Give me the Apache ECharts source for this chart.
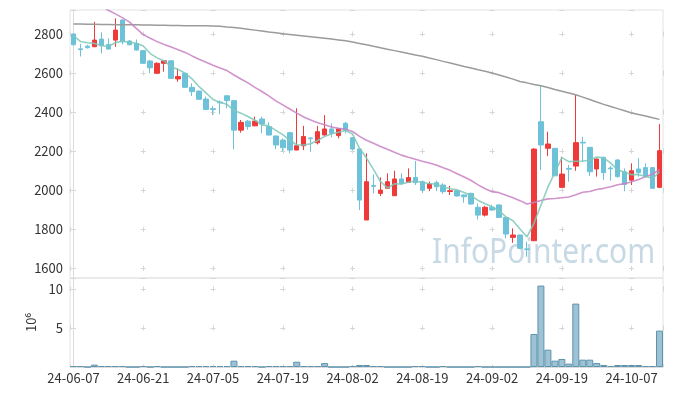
<!DOCTYPE html>
<html><head><meta charset="utf-8">
<script src="https://cdn.jsdelivr.net/npm/echarts@6/dist/echarts.min.js"></script>
<style>html,body{margin:0;padding:0;background:#fff}#c{width:673px;height:396px}</style>
</head><body><div id="c"></div>
<script>
const dates = ['24-06-07','24-06-10','24-06-11','24-06-12','24-06-13','24-06-14','24-06-17','24-06-18','24-06-19','24-06-20',
'24-06-21','24-06-24','24-06-25','24-06-26','24-06-27','24-06-28','24-07-01','24-07-02','24-07-03','24-07-04',
'24-07-05','24-07-08','24-07-09','24-07-10','24-07-11','24-07-12','24-07-15','24-07-16','24-07-17','24-07-18',
'24-07-19','24-07-22','24-07-23','24-07-24','24-07-25','24-07-26','24-07-29','24-07-30','24-07-31','24-08-01',
'24-08-02','24-08-05','24-08-06','24-08-07','24-08-08','24-08-09','24-08-12','24-08-13','24-08-14','24-08-16',
'24-08-19','24-08-20','24-08-21','24-08-22','24-08-23','24-08-26','24-08-27','24-08-28','24-08-29','24-08-30',
'24-09-02','24-09-03','24-09-04','24-09-05','24-09-06','24-09-09','24-09-10','24-09-11','24-09-12','24-09-13',
'24-09-19','24-09-20','24-09-23','24-09-24','24-09-25','24-09-26','24-09-27','24-09-30','24-10-02','24-10-04',
'24-10-07','24-10-08','24-10-10','24-10-11','24-10-14'];

const opens  = [2800,2724,2738,2735,2774,2747,2769,2872,2764,2752, 2715,2662,2599,2650,2663,2570,2599,2527,2508,2467,
                2418,2452,2484,2459,2308,2354,2330,2365,2326,2278, 2257,2295,2206,2228,2268,2243,2283,2314,2280,2343,
                2269,2211,1848,2024,1984,2010,1972,2058,2041,2066, 2044,2010,2039,2027,1994,1998,1976,1984,1913,1873,
                1913,1925,1861,1759,1771,1700,1742,2351,2215,2215, 2015,2112,2124,2246,2220,2109,2169,2114,2155,2095,
                2052,2109,2116,2116,2015];
const closes = [2745,2720,2730,2769,2740,2723,2820,2761,2745,2718, 2650,2627,2650,2663,2573,2582,2527,2505,2466,2414,
                2414,2448,2459,2308,2348,2326,2354,2339,2283,2232, 2218,2206,2228,2275,2264,2300,2314,2292,2314,2308,
                2211,1950,2044,2020,2001,2044,2058,2036,2065,2039, 2001,2032,2018,1993,1998,1971,1967,1930,1873,1913,
                1899,1861,1776,1771,1703,1697,2211,2232,2237,2074, 2083,2108,2244,2242,2095,2160,2090,2110,2070,2030,
                2100,2090,2070,2010,2203];
const lows   = [2742,2685,2726,2733,2701,2720,2735,2747,2743,2715, 2648,2600,2597,2607,2570,2556,2525,2483,2463,2412,
                2385,2390,2420,2210,2295,2310,2328,2292,2280,2210, 2198,2190,2205,2206,2197,2235,2280,2271,2266,2292,
                2205,1899,1848,1984,1971,2008,1972,2027,2040,2027, 1986,1996,1996,1982,1976,1968,1936,1925,1851,1866,
                1895,1858,1754,1731,1700,1660,1740,2104,2175,2072, 2015,2044,2100,2146,2074,2070,2052,2049,2064,1995,
                2027,2070,2064,2008,2013];
const highs  = [2802,2750,2745,2863,2809,2778,2880,2874,2770,2772, 2718,2667,2655,2665,2665,2624,2600,2548,2510,2480,
                2431,2460,2485,2460,2360,2360,2377,2377,2348,2280, 2266,2300,2420,2330,2270,2330,2385,2343,2318,2350,
                2272,2215,2189,2082,2066,2087,2100,2087,2112,2150, 2050,2044,2050,2036,2023,2000,1978,1988,1933,1920,
                1926,1928,1862,1805,1773,1737,2215,2539,2300,2217, 2172,2129,2488,2274,2222,2162,2171,2124,2160,2112,
                2138,2164,2138,2118,2339];

const ma5   = [2790,2762,2755,2752,2741,2736,2756,2763,2758,2753, 2739,2700,2678,2662,2633,2619,2599,2570,2531,2499,
               2465,2449,2440,2409,2395,2378,2359,2335,2330,2307, 2285,2256,2233,2232,2238,2255,2276,2289,2297,2306,
               2288,2215,2165,2107,2045,2012,2033,2032,2041,2048, 2040,2035,2031,2017,2008,2002,1989,1972,1948,1931,
               1916,1895,1864,1844,1802,1762,1831,1923,2016,2090, 2167,2147,2149,2150,2154,2170,2166,2139,2105,2092,
               2080,2080,2072,2060,2095];
const ma20  = [3022,3002,2982,2962,2942,2922,2903,2884,2862,2829, 2797,2778,2761,2747,2734,2720,2706,2688,2671,2656,
               2640,2626,2613,2590,2570,2550,2527,2506,2483,2458, 2437,2416,2395,2375,2360,2346,2335,2324,2317,2312,
               2301,2276,2256,2241,2224,2210,2195,2180,2169,2159, 2149,2140,2129,2115,2102,2085,2068,2050,2028,2008,
               1993,1988,1975,1962,1947,1930,1938,1948,1956,1958, 1962,1966,1977,1990,1994,2004,2010,2018,2028,2034,
               2044,2055,2070,2082,2107];
const ma120 = [2851,2851,2850,2850,2849,2849,2848,2848,2847,2847, 2846,2846,2845,2845,2844,2844,2843,2843,2842,2842,
               2841,2840,2836,2833,2829,2825,2820,2815,2810,2806, 2802,2798,2794,2790,2786,2782,2778,2774,2770,2765,
               2759,2752,2745,2737,2730,2722,2715,2708,2700,2693, 2686,2677,2669,2660,2652,2643,2634,2626,2617,2609,
               2600,2590,2580,2569,2557,2550,2542,2535,2526,2516, 2507,2498,2489,2477,2465,2452,2440,2429,2418,2407,
               2396,2388,2380,2371,2363];
const volume = [0.13,0.13,0,0.30,0.13,0.13,0.13,0.13,0,0, 0.13,0,0.13,0,0,0,0,0.13,0.13,0.13,
                0.13,0.13,0.13,0.81,0.13,0.13,0.13,0,0.13,0.13, 0.13,0.13,0.68,0.13,0.13,0.13,0.50,0,0,0,
                0.13,0.26,0.26,0.13,0.13,0,0,0,0,0.13, 0.13,0,0,0.13,0,0,0,0,0.13,0,
                0,0,0,0,0,0,4.23,10.43,2.22,0.81, 1.03,0.43,8.12,0.94,0.94,0.51,0.26,0.13,0.26,0.26,
                0.26,0.26,0.13,0.13,4.66];
const priceTicks = [1600,1800,2000,2200,2400,2600,2800];
const volumeTicks = [5,10];

const FONT = '"Noto Sans CJK KR", "Noto Sans", sans-serif';
const kData = opens.map((o, i) => [o, closes[i], lows[i], highs[i]]);
const chart = echarts.init(document.getElementById('c'), null, {renderer: 'canvas'});
const plusColor = '#d6d6d6';
chart.setOption({
  animation: false,
  backgroundColor: '#fff',
  textStyle: {fontFamily: FONT},
  graphic: [{
    type: 'text', x: 432, y: 236, scaleX: 0.88, z: 0, silent: true,
    style: {text: 'InfoPointer.com', fontSize: 34, fontFamily: '"Noto Sans", sans-serif', fill: '#c6d9e4'}
  }],
  grid: [
    {left: 70, right: 10, top: 10, height: 268, show: true, borderColor: '#e3e3e3', borderWidth: 1, backgroundColor: 'transparent'},
    {left: 70, right: 10, top: 278, height: 89, show: true, borderColor: '#e3e3e3', borderWidth: 1, backgroundColor: 'transparent'}
  ],
  xAxis: [
    {type: 'category', data: dates, gridIndex: 0, boundaryGap: true,
     axisLine: {show: false}, axisTick: {show: false}, axisLabel: {show: false}, splitLine: {show: false}},
    {type: 'category', data: dates, gridIndex: 1, boundaryGap: true,
     axisLine: {show: true, lineStyle: {color: '#dcdcdc'}}, axisTick: {show: false},
     axisLabel: {interval: 9, color: '#333', fontSize: 13, margin: 5, fontFamily: FONT}, splitLine: {show: false}},
    {type: 'value', gridIndex: 0, min: -0.5, max: 84.5, splitNumber: 8,
     axisLine: {show: false}, axisTick: {show: false}, axisLabel: {show: false},
     splitLine: {show: true, lineStyle: {color: plusColor, width: 1, type: [5, 34.07], dashOffset: 17.54}}},
    {type: 'value', gridIndex: 1, min: -0.5, max: 84.5, splitNumber: 8,
     axisLine: {show: false}, axisTick: {show: false}, axisLabel: {show: false},
     splitLine: {show: true, lineStyle: {color: plusColor, width: 1, type: [5, 34.04], dashOffset: 30.64}}}
  ],
  yAxis: [
    {type: 'value', gridIndex: 0, min: 1551, max: 2923, splitNumber: 7, scale: true,
     axisLine: {show: true, lineStyle: {color: '#dcdcdc'}}, axisTick: {show: false},
     axisLabel: {color: '#333', fontSize: 13, margin: 7, fontFamily: FONT,
       formatter: v => priceTicks.includes(Math.round(v)) && Math.abs(v - Math.round(v)) < 1e-6 ? String(Math.round(v)) : ''},
     splitLine: {show: true, lineStyle: {color: plusColor, width: 1, type: [5, 64.76], dashOffset: 68.77}}},
    {type: 'value', gridIndex: 1, min: 0, max: 11.4, interval: 5,
     name: '10⁶', nameLocation: 'middle', nameGap: 30, nameRotate: 90,
     nameTextStyle: {color: '#333', fontSize: 13, fontFamily: FONT},
     axisLine: {show: true, lineStyle: {color: '#dcdcdc'}}, axisTick: {show: false},
     axisLabel: {color: '#333', fontSize: 13, margin: 7, fontFamily: FONT,
       formatter: v => volumeTicks.includes(v) ? String(v) : ''},
     splitLine: {show: true, lineStyle: {color: plusColor, width: 1, type: [5, 64.76], dashOffset: 68.77}}}
  ],
  series: [
    {type: 'candlestick', name: 'price', xAxisIndex: 0, yAxisIndex: 0, data: kData, barWidth: '72%',
     itemStyle: {color: '#ef3a3a', color0: '#6dc2d9', borderColor: '#ef3a3a', borderColor0: '#6dc2d9', borderWidth: 1}},
    {type: 'line', name: 'MA120', xAxisIndex: 0, yAxisIndex: 0, data: ma120, symbol: 'none',
     lineStyle: {color: '#9b9b9b', width: 1.5}},
    {type: 'line', name: 'MA20', xAxisIndex: 0, yAxisIndex: 0, data: ma20, symbol: 'none',
     lineStyle: {color: 'rgba(200,128,195,0.85)', width: 1.6}},
    {type: 'line', name: 'MA5', xAxisIndex: 0, yAxisIndex: 0, data: ma5, symbol: 'none',
     lineStyle: {color: 'rgba(125,200,185,0.85)', width: 1.6}},
    {type: 'bar', name: 'volume', xAxisIndex: 1, yAxisIndex: 1, data: volume, barWidth: '100%',
     itemStyle: {color: '#9cc2d4', borderColor: '#5e93ad', borderWidth: 1}}
  ]
});
</script></body></html>
